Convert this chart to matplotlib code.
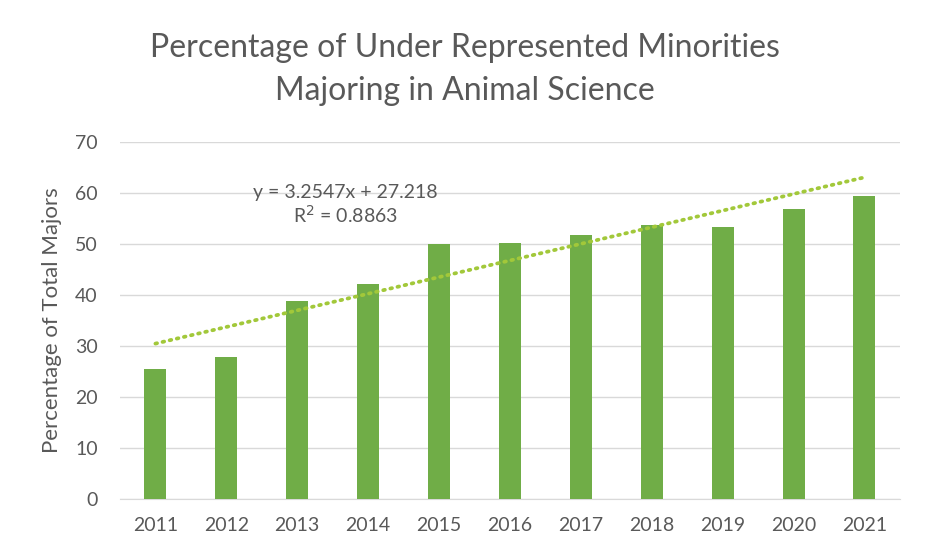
import numpy as np
import matplotlib
matplotlib.use("Agg")
import matplotlib.pyplot as plt

# -----------------------------------
# Data
# -----------------------------------

years = ["2011", "2012", "2013", "2014", "2015", "2016",
         "2017", "2018", "2019", "2020", "2021"]
percent_urm = [25.6, 27.9, 38.8, 42.2, 49.9, 50.2, 51.7, 53.7, 53.3, 56.9, 59.4]

# linear trendline as reported on the chart
trend_slope = 3.2547
trend_intercept = 27.218
trend_r2 = 0.8863

# -----------------------------------
# Style
# -----------------------------------

plt.rcParams["font.family"] = ["Lato", "DejaVu Sans"]
TEXT_GRAY = "#595959"
BAR_GREEN = "#70AD47"
TREND_GREEN = "#A2C83A"
GRID_GRAY = "#D9D9D9"

fig = plt.figure(figsize=(9.27, 5.6), dpi=100)
ax = fig.add_axes([0.1294, 0.1084, 0.8414, 0.6386])

x = np.arange(len(years))
ax.bar(x, percent_urm, width=0.31, color=BAR_GREEN, zorder=3)

trend_x = x + 1
trend_y = trend_slope * trend_x + trend_intercept
ax.plot(x, trend_y, linestyle=(0, (0.45, 1.5)), dash_capstyle="round",
        linewidth=2.7, color=TREND_GREEN, zorder=4)

ax.text(2.68, 57.6,
        f"y = {trend_slope}x + {trend_intercept}\nR$^2$ = {trend_r2}",
        ha="center", va="center", fontsize=14, color=TEXT_GRAY,
        linespacing=1.15)

ax.set_xlim(-0.5, len(years) - 0.5)
ax.set_ylim(0, 70)
ax.set_yticks(range(0, 71, 10))
ax.set_xticks(x)
ax.set_xticklabels(years)

ax.grid(axis="y", color=GRID_GRAY, linewidth=1.0, zorder=0)
for side in ["top", "right", "left"]:
    ax.spines[side].set_visible(False)
ax.spines["bottom"].set_color(GRID_GRAY)
ax.tick_params(axis="both", length=0, labelsize=14, labelcolor=TEXT_GRAY)
ax.tick_params(axis="y", pad=16)
ax.tick_params(axis="x", pad=13)

ax.set_ylabel("Percentage of Total Majors", fontsize=16, color=TEXT_GRAY,
              labelpad=9)

fig.text(0.502, 0.914, "Percentage of Under Represented Minorities",
         ha="center", va="center", fontsize=23, color=TEXT_GRAY)
fig.text(0.502, 0.838, "Majoring in Animal Science",
         ha="center", va="center", fontsize=23, color=TEXT_GRAY)

fig.savefig("out.png", dpi=100, facecolor="white")
